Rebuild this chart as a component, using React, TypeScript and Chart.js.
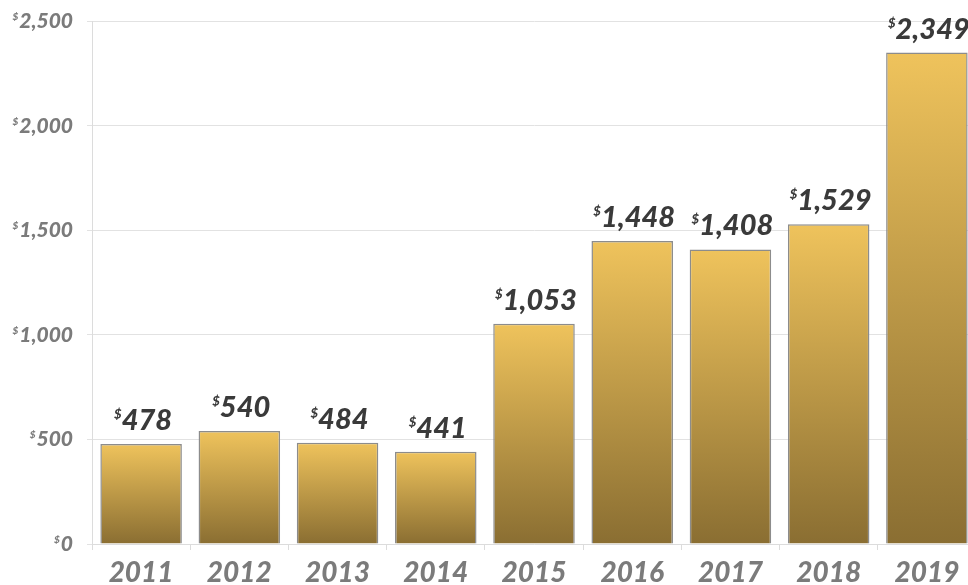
import React, { useEffect, useRef } from "react";
import { Chart, registerables } from "chart.js";

Chart.register(...registerables);

const years = ["2011", "2012", "2013", "2014", "2015", "2016", "2017", "2018", "2019"];
const values = [478, 540, 484, 441, 1053, 1448, 1408, 1529, 2349];
const yTicks = [0, 500, 1000, 1500, 2000, 2500];

const FONT = "Lato, 'DejaVu Sans', sans-serif";

const fmt = (v: number) => v.toLocaleString("en-US");

const labelPlugin = {
  id: "customLabels",
  afterDraw(chart: any) {
    const ctx = chart.ctx;
    const y = chart.scales.y;
    ctx.save();
    // y-axis labels with superscript $
    ctx.fillStyle = "#7b7b7b";
    ctx.textBaseline = "alphabetic";
    for (const t of yTicks) {
      const py = y.getPixelForValue(t);
      const txt = fmt(t);
      ctx.font = `italic 900 21px ${FONT}`;
      ctx.textAlign = "right";
      const right = 73;
      ctx.fillText(txt, right, py + 7);
      const w = ctx.measureText(txt).width;
      ctx.font = `italic 900 10px ${FONT}`;
      ctx.fillText("$", right - w - 1, py - 1);
    }
    // data labels
    const meta = chart.getDatasetMeta(0);
    meta.data.forEach((bar: any, i: number) => {
      const txt = fmt(values[i]);
      const cx = bar.x + 2;
      const base = bar.y - 14;
      ctx.font = `italic 900 29px ${FONT}`;
      const w = ctx.measureText(txt).width;
      ctx.font = `italic 900 13px ${FONT}`;
      const sw = ctx.measureText("$").width;
      const total = w + sw;
      const start = cx - total / 2;
      ctx.fillStyle = "#3a3a3a";
      ctx.textAlign = "left";
      ctx.fillText("$", start, base - 11);
      ctx.font = `italic 900 29px ${FONT}`;
      ctx.fillText(txt, start + sw, base);
    });
    ctx.restore();
  },
};

export default function App() {
  const ref = useRef<HTMLCanvasElement | null>(null);
  useEffect(() => {
    if (!ref.current) return;
    const chart = new Chart(ref.current, {
      type: "bar",
      data: {
        labels: years,
        datasets: [
          {
            data: values,
            backgroundColor: (c: any) => {
              const ch = c.chart;
              const ys = ch.scales?.y;
              if (!ys || c.type !== "data") return "#d4a94b";
              const top = ys.getPixelForValue(c.parsed.y);
              const bottom = ys.getPixelForValue(0);
              if (!isFinite(top) || !isFinite(bottom) || top === bottom) return "#d4a94b";
              const g = ch.ctx.createLinearGradient(0, top, 0, bottom);
              g.addColorStop(0, "#efc35c");
              g.addColorStop(1, "#8a6e32");
              return g;
            },
            borderColor: "#8c8c8c",
            borderWidth: 1.5,
            categoryPercentage: 1,
            barPercentage: 0.83,
          },
        ],
      },
      options: {
        animation: false,
        responsive: true,
        maintainAspectRatio: false,
        layout: { padding: { top: 21, right: 0, bottom: 0, left: 0 } },
        plugins: { legend: { display: false }, tooltip: { enabled: false } },
        scales: {
          x: {
            offset: true,
            grid: {
              display: true,
              drawOnChartArea: false,
              drawTicks: true,
              tickLength: 6,
              color: "#dcdcdc",
              offset: true,
            },
            border: { display: true, color: "#dcdcdc" },
            ticks: {
              color: "#7b7b7b",
              font: { family: FONT, size: 28, style: "italic", weight: 900 },
              padding: 6,
              maxRotation: 0,
            },
            afterFit: (s: any) => {
              s.height = 41;
            },
          },
          y: {
            min: 0,
            max: 2500,
            afterBuildTicks: (s: any) => {
              s.ticks = yTicks.map((v) => ({ value: v }));
            },
            grid: { color: "#e2e2e2", tickLength: 5 },
            border: { display: true, color: "#dcdcdc" },
            ticks: { color: "transparent", font: { size: 12 } },
            afterFit: (s: any) => {
              s.width = 92;
            },
          },
        },
      },
      plugins: [labelPlugin],
    });
    return () => chart.destroy();
  }, []);
  return (
    <div style={{ position: "absolute", left: 0, top: 0, width: 976, height: 585 }}>
      <canvas ref={ref} />
    </div>
  );
}
